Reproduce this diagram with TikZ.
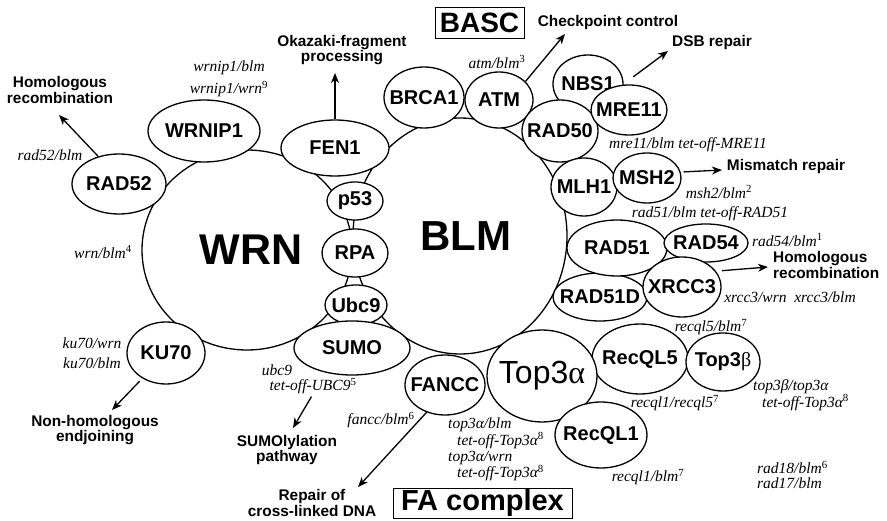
\documentclass[tikz,border=0pt]{standalone}
\usepackage{fontspec}
\setmainfont{Liberation Serif}
\setsansfont{Liberation Sans}
\usetikzlibrary{shapes.geometric,arrows.meta}
\newcommand\nm[1]{\makebox[0pt]{#1}}
\newcommand\supn[1]{\textsuperscript{\upshape #1}}
\newcommand\pfont{\sffamily\bfseries\fontsize{20}{22}\selectfont}
\newcommand\pwfont{\sffamily\bfseries\fontsize{15.4}{15.5}\selectfont}
\newcommand\ifont{\rmfamily\itshape\fontsize{15.5}{15}\selectfont}
\begin{document}
\begin{tikzpicture}[x=1pt,y=-1pt,
  prot/.style={ellipse,draw,fill=white,line width=1.3pt,inner sep=0pt,font=\pfont},
  sz/.style 2 args={minimum width=#1pt,minimum height=#2pt},
  big/.style={ellipse,draw,line width=1.3pt,inner sep=0pt,font=\sffamily\bfseries\fontsize{43}{45}\selectfont},
  pw/.style={font=\pwfont,align=center,inner sep=0pt},
  lab/.style={font=\ifont,inner sep=0pt},
  arr/.style={line width=1.3pt,-{Stealth[length=10pt,width=8pt,inset=3pt]}},
  boxed/.style={draw,line width=0.9pt,inner sep=0pt}
]
\useasboundingbox (0,0) rectangle (887,521);
% big circles
\node[big,sz={210}{200}] (wrn) at (247,250) {\nm{\hspace{8pt}WRN}};
\node[big,sz={214}{236},font=\sffamily\bfseries\fontsize{42}{44}\selectfont] (blm) at (460,236) {\nm{\hspace{12pt}BLM}};
% small proteins
\node[prot,sz={112}{62}] (wrnip1) at (204,131) {\nm{WRNIP1}};
\node[prot,sz={94}{60}] (rad52) at (119,184) {\nm{RAD52}};
\node[prot,sz={108}{56}] (fen1) at (335,148) {\nm{FEN1}};
\node[prot,sz={56}{38}] (p53) at (355,201) {\nm{p53}};
\node[prot,sz={66}{48}] (rpa) at (355,253) {\nm{RPA}};
\node[prot,sz={62}{40}] (ubc9) at (356,305) {\nm{Ubc9}};
\node[prot,sz={116}{54}] (sumo) at (352,348) {\nm{SUMO}};
\node[prot,sz={78}{62}] (ku70) at (166,353) {\nm{KU70}};
\node[prot,sz={80}{61}] (brca1) at (424,97.5) {\nm{BRCA1}};
\node[prot,sz={68}{56}] (atm) at (499,100) {\nm{ATM}};
\node[prot,sz={70}{58}] (nbs1) at (588,84) {\nm{NBS1}};
\node[prot,sz={76}{62}] (rad50) at (560,131) {\nm{RAD50}};
\node[prot,sz={76}{50}] (mre11) at (629,110) {\nm{MRE11}};
\node[prot,sz={66}{58}] (mlh1) at (584,187) {\nm{MLH1}};
\node[prot,sz={68}{50}] (msh2) at (647,178) {\nm{MSH2}};
\node[prot,sz={94}{48}] (rad51d) at (600,297) {\nm{RAD51D}};
\node[prot,sz={100}{56}] (rad51) at (617,248) {\nm{RAD51}};
\node[prot,sz={84}{38}] (rad54) at (706,243) {\nm{RAD54}};
\node[prot,sz={78}{60}] (xrcc3) at (682,287) {\nm{XRCC3}};
\node[prot,sz={80}{60}] (fancc) at (445,385) {\nm{FANCC}};
\node[prot,sz={96}{70}] (recql5) at (640,359) {\nm{RecQL5}};
\node[prot,sz={74}{58}] (top3b) at (723,362) {\nm{Top3{\rmfamily\mdseries β}}};
\node[prot,sz={110}{92},font=\sffamily\fontsize{32}{34}\selectfont] (top3a) at (542,376) {\nm{Top3{\rmfamily α}}};
\node[prot,sz={92}{66}] (recql1) at (601,435) {\nm{RecQL1}};
% boxes
\node[boxed,minimum width=89pt,minimum height=31pt,font=\sffamily\bfseries\fontsize{28}{30}\selectfont] (basc) at (479.5,22.5) {BASC};
\node[boxed,minimum width=179pt,minimum height=30pt,font=\sffamily\bfseries\fontsize{29}{31}\selectfont] (fa) at (482.5,503) {FA complex};
% pathway labels
\node[pw] (hr1) at (60,90) {Homologous\\recombination};
\node[pw] (okz) at (342,50) {Okazaki-fragment\\processing};
\node[pw] (chk) at (608,23) {Checkpoint control};
\node[pw] (dsb) at (712,43) {DSB repair};
\node[pw] (mmr) at (786,167) {Mismatch repair};
\node[pw,align=left,anchor=west] (hr2) at (773,265) {Homologous\\recombination};
\node[pw] (nhej) at (95,430) {Non-homologous\\endjoining};
\node[pw] (sumop) at (287,450) {SUMOlylation\\pathway};
\node[pw] (icl) at (312,503) {Repair of\\cross-linked DNA};
% italic labels
\node[lab] (l-rad52) at (50,155) {rad52/blm};
\node[lab] (l-wrnip1a) at (229,68) {wrnip1/blm};
\node[lab] (l-wrnip1b) at (229,89) {wrnip1/wrn\supn{9}};
\node[lab] (l-atm) at (497,62) {atm/blm\supn{3}};
\node[lab] (l-mre11) at (688,145) {mre11/blm tet-off-MRE11};
\node[lab] (l-msh2) at (719,192) {msh2/blm\supn{2}};
\node[lab] (l-rad51) at (710,214) {rad51/blm tet-off-RAD51};
\node[lab,anchor=west] (l-rad54) at (752,240) {rad54/blm\supn{1}};
\node[lab] (l-xrcc3) at (790,297) {xrcc3/wrn\ \ xrcc3/blm};
\node[lab] (l-recql5) at (711,327) {recql5/blm\supn{7}};
\node[lab,align=left,anchor=west] (l-top3b) at (753,395) {top3β/top3α\\\hspace*{9pt}tet-off-Top3α\supn{8}};
\node[lab] (l-recql15) at (675,403) {recql1/recql5\supn{7}};
\node[lab] (l-recql1) at (648,477) {recql1/blm\supn{7}};
\node[lab,align=left,anchor=west] (l-rad18) at (757,475) {rad18/blm\supn{6}\\rad17/blm};
\node[lab,align=left,anchor=west] (l-top3a1) at (448,433) {top3α/blm\\\hspace*{9pt}tet-off-Top3α\supn{8}};
\node[lab,align=left,anchor=west] (l-top3a3) at (448,466) {top3α/wrn\\\hspace*{9pt}tet-off-Top3α\supn{8}};
\node[lab] (l-fancc) at (381,420) {fancc/blm\supn{6}};
\node[lab] (l-ubc1) at (277,370) {ubc9};
\node[lab] (l-ubc2) at (313,386) {tet-off-UBC9\supn{5}};
\node[lab] (l-wrn) at (103,252) {wrn/blm\supn{4}};
\node[lab] (l-ku1) at (92,343) {ku70/wrn};
\node[lab] (l-ku2) at (92,363) {ku70/blm};
% arrows
\coordinate (e-hr1) at (59,115);
\coordinate (e-okz) at (335,73);
\coordinate (e-chk) at (565,34);
\coordinate (e-dsb) at (668,51);
\coordinate (e-mmr) at (722,170);
\coordinate (e-hr2) at (768,267);
\coordinate (e-nhej) at (112,410);
\coordinate (e-sumo) at (293,428);
\coordinate (e-icl) at (358,487);
\draw[arr] (rad52.127) -- (e-hr1);
\draw[arr] (fen1.north) -- (e-okz);
\draw[arr] (atm.35) -- (e-chk);
\draw[arr,shorten <=12pt] (nbs1.east) -- (e-dsb);
\draw[arr,shorten <=3pt] (msh2.10) -- (e-mmr);
\draw[arr,shorten <=6pt] (xrcc3.25) -- (e-hr2);
\draw[arr,shorten <=4pt] (ku70.-133) -- (e-nhej);
\draw[arr,shorten <=3pt] (l-ubc2.south) -- (e-sumo);
\draw[arr] (fancc.-124) -- (e-icl);
\end{tikzpicture}
\end{document}
